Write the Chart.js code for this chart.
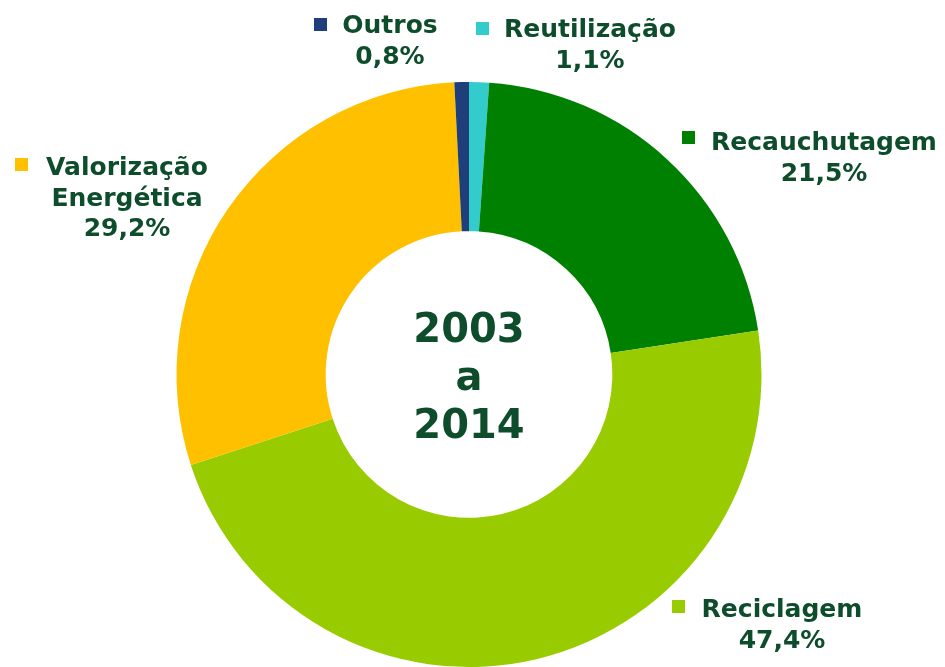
<!DOCTYPE html>
<html lang="pt">
<head>
    <meta charset="UTF-8">
    <title>Destino dos pneus 2003 a 2014</title>
    <style>
        html, body { margin: 0; padding: 0; background: #ffffff; }
        #wrap { width: 945px; height: 667px; }
    </style>
</head>
<body>

<div id="wrap">
    <canvas id="myChart" width="945" height="667"></canvas>
</div>

<script src="https://cdn.jsdelivr.net/npm/chart.js"></script>

<script>
    // data, clockwise from the top
    const categories = ['Reutilização', 'Recauchutagem', 'Reciclagem', 'Valorização Energética', 'Outros'];
    const shares = [1.1, 21.5, 47.4, 29.2, 0.8];
    const colors = ['#33cccc', '#008000', '#99cc00', '#ffc000', '#1f3f7a'];
    const centerText = ['2003', 'a', '2014'];

    const textColor = '#0e4d2b';
    const fontFamily = '"DejaVu Sans", Verdana, sans-serif';

    // label layout: square marker + text lines (centred at cx), first baseline y
    const labelLayout = [
        {sq: [476, 22], cx: 590, y: 37, lines: ['Reutilização']},
        {sq: [682, 131], cx: 824, y: 150, lines: ['Recauchutagem']},
        {sq: [672, 600], cx: 782, y: 617, lines: ['Reciclagem']},
        {sq: [15, 158], cx: 127, y: 175, lines: ['Valorização', 'Energética']},
        {sq: [314, 18], cx: 390, y: 33, lines: ['Outros']}
    ];

    const fmt = v => v.toFixed(1).replace('.', ',') + '%';

    const labelsPlugin = {
        id: 'pieLabels',
        afterDraw(chart) {
            const c = chart.ctx;
            c.save();
            c.textAlign = 'center';
            c.textBaseline = 'alphabetic';
            c.font = 'bold 25px ' + fontFamily;
            labelLayout.forEach((l, i) => {
                c.fillStyle = colors[i];
                c.fillRect(l.sq[0], l.sq[1], 13, 13);
                c.fillStyle = textColor;
                const lines = l.lines.concat([fmt(shares[i])]);
                lines.forEach((t, k) => {
                    c.fillText(t, l.cx, l.y + k * 30.5);
                });
            });

            // centre text
            const meta = chart.getDatasetMeta(0).data[0];
            const x = meta.x, y = meta.y;
            c.font = 'bold 40px ' + fontFamily;
            centerText.forEach((t, k) => {
                c.fillText(t, x, y - 33 + k * 48);
            });
            c.restore();
        }
    };

    const config = {
        type: 'doughnut',
        data: {
            labels: categories,
            datasets: [{
                data: shares,
                backgroundColor: colors,
                borderWidth: 0
            }]
        },
        options: {
            responsive: false,
            animation: false,
            cutout: '49%',
            layout: {
                padding: {top: 82, bottom: 0, left: 0, right: 7}
            },
            plugins: {
                legend: {display: false},
                tooltip: {enabled: false}
            }
        },
        plugins: [labelsPlugin]
    };

    new Chart(document.getElementById('myChart'), config);
</script>

</body>
</html>
